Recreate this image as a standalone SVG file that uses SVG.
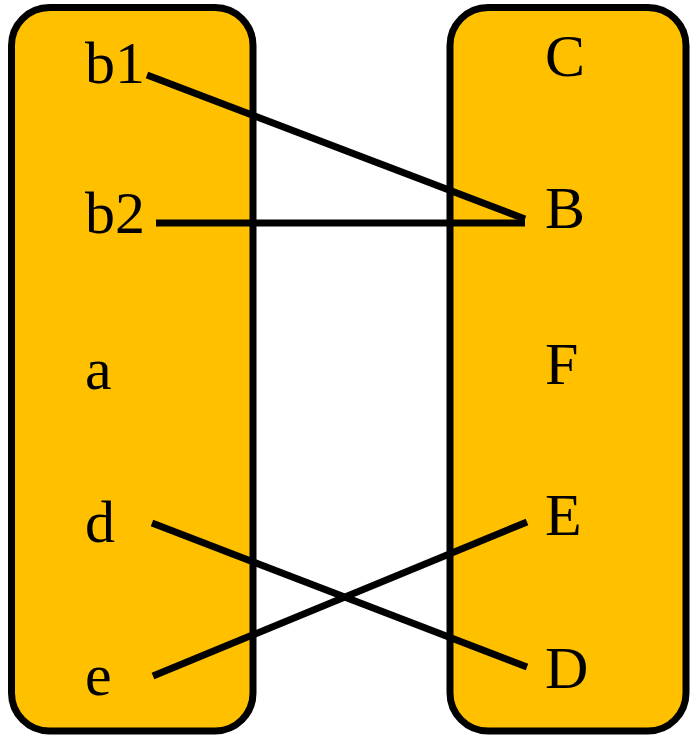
<svg xmlns="http://www.w3.org/2000/svg" width="690" height="738" viewBox="0 0 690 738">
<style>
.box{fill:#FFC000;stroke:#000;stroke-width:7}
.lbl{font-family:"Liberation Serif","Times New Roman",serif;font-size:60px;fill:#000}
.edge{stroke:#000;stroke-width:7;fill:none}
</style>
<rect width="690" height="738" fill="#fff"/>
<g id="left-set">
<rect class="box" x="11.5" y="7.5" width="241.5" height="723.5" rx="38" ry="38"/>
</g>
<g id="right-set">
<rect class="box" x="450" y="7.5" width="236" height="723.5" rx="38" ry="38"/>
</g>
<g id="node-b1"><text class="lbl" x="85" y="83">b1</text></g>
<g id="node-b2"><text class="lbl" x="85" y="233">b2</text></g>
<g id="node-a"><text class="lbl" x="85" y="389">a</text></g>
<g id="node-d"><text class="lbl" x="85" y="542">d</text></g>
<g id="node-e"><text class="lbl" x="85" y="695">e</text></g>
<g id="node-C"><text class="lbl" x="545" y="76">C</text></g>
<g id="node-B"><text class="lbl" x="545" y="228">B</text></g>
<g id="node-F"><text class="lbl" x="545" y="384">F</text></g>
<g id="node-E"><text class="lbl" x="545" y="535">E</text></g>
<g id="node-D"><text class="lbl" x="545" y="688">D</text></g>
<g id="connectors">
<line class="edge" x1="147" y1="75" x2="525" y2="219"/>
<line class="edge" x1="156" y1="223" x2="525" y2="223"/>
<line class="edge" x1="152" y1="523" x2="527" y2="667"/>
<line class="edge" x1="153" y1="676" x2="527" y2="522"/>
</g>
</svg>
